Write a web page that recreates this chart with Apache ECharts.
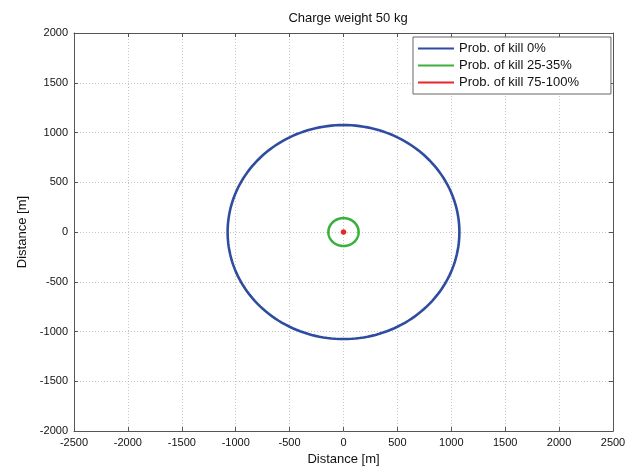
<!DOCTYPE html>
<html><head><meta charset="utf-8">
<script src="https://cdn.jsdelivr.net/npm/echarts@6/dist/echarts.min.js"></script>
<style>html,body{margin:0;padding:0;background:#fff}#c{width:636px;height:471px}</style>
</head><body><div id="c"></div>
<script>
const seriesNames = ['Prob. of kill 0%', 'Prob. of kill 25-35%', 'Prob. of kill 75-100%'];
const seriesRadii = [1075, 140, 12];   // radius in metres
const seriesColors = ['#2f4da0', '#3cb03c', '#e8262a'];
const seriesWidths = [2.6, 2.6, 3];
const xTicks = [-2500, 2500, 500];
const yTicks = [-2000, 2000, 500];

const chart = echarts.init(document.getElementById('c'));
const font = 'Liberation Sans, Arial, sans-serif';
function circleSeries(i) {
  return {
    type: 'custom', name: seriesNames[i], xAxisIndex: 0, yAxisIndex: 0,
    color: seriesColors[i],
    data: [[seriesRadii[i]]],
    renderItem: function (params, api) {
      const r = api.value(0);
      const pts = [];
      for (let k = 0; k <= 180; k++) {
        const t = k / 180 * 2 * Math.PI;
        pts.push(api.coord([r * Math.cos(t), r * Math.sin(t)]));
      }
      return { type: 'polyline', shape: { points: pts },
        style: { stroke: seriesColors[i], lineWidth: seriesWidths[i], fill: null } };
    }
  };
}
const common = {
  axisLine: { show: true, onZero: false, lineStyle: { color: '#555', width: 1 } },
  axisTick: { show: true, inside: true, length: 4, lineStyle: { color: '#555' } },
  axisLabel: { color: '#111', fontFamily: font, fontSize: 11, formatter: v => String(v) },
  splitLine: { show: true, lineStyle: { color: '#c4c4c4', type: [1, 2], width: 1 } }
};
chart.setOption({
  animation: false,
  backgroundColor: '#fff',
  title: { text: 'Charge weight 50 kg', left: 343, top: 7, textAlign: 'center',
    textStyle: { fontFamily: font, fontSize: 13, fontWeight: 'normal', color: '#111' } },
  grid: { left: 74, right: 23, top: 33, bottom: 35, containLabel: false },
  legend: {
    orient: 'vertical', left: 413, top: 37,
    backgroundColor: '#fff', borderColor: '#666', borderWidth: 1,
    padding: [5, 32, 5, 5], itemGap: 4, itemWidth: 36, itemHeight: 14,
    icon: 'path://M0,6 L36,6 L36,8 L0,8 Z',
    textStyle: { fontFamily: font, fontSize: 13, color: '#111' },
    data: seriesNames
  },
  xAxis: [
    Object.assign({}, common, { type: 'value', min: xTicks[0], max: xTicks[1], interval: xTicks[2],
      position: 'bottom', name: 'Distance [m]', nameLocation: 'middle', nameGap: 21,
      nameTextStyle: { fontFamily: font, fontSize: 13, color: '#111' },
      axisLabel: Object.assign({}, common.axisLabel, { margin: 6 }) }),
    Object.assign({}, common, { type: 'value', min: xTicks[0], max: xTicks[1], interval: xTicks[2],
      position: 'top', axisLabel: { show: false }, splitLine: { show: false } })
  ],
  yAxis: [
    Object.assign({}, common, { type: 'value', min: yTicks[0], max: yTicks[1], interval: yTicks[2],
      position: 'left', name: 'Distance [m]', nameLocation: 'middle', nameGap: 36,
      nameTextStyle: { fontFamily: font, fontSize: 13, color: '#111' },
      axisLabel: Object.assign({}, common.axisLabel, { margin: 6 }) }),
    Object.assign({}, common, { type: 'value', min: yTicks[0], max: yTicks[1], interval: yTicks[2],
      position: 'right', axisLabel: { show: false }, splitLine: { show: false } })
  ],
  series: [circleSeries(0), circleSeries(1), circleSeries(2)]
});
</script></body></html>
